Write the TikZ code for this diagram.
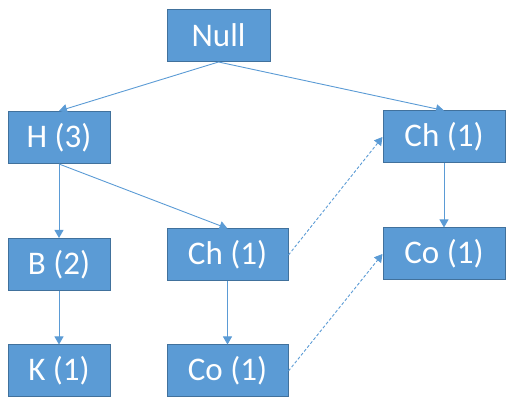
\documentclass[tikz,border=0pt]{standalone}
\usepackage{fontspec}
\setmainfont{Carlito}
\usetikzlibrary{arrows.meta}
\definecolor{boxfill}{HTML}{5B9BD5}
\definecolor{boxline}{HTML}{41719C}
\definecolor{linkcol}{HTML}{5B9BD5}
\tikzset{
  item/.style={draw=boxline, line width=1pt, fill=boxfill, text=white,
    minimum height=52pt, inner sep=0pt,
    font=\fontsize{33}{38}\selectfont},
  link/.style={draw=linkcol, line width=0.9pt,
    -{Triangle[length=8pt,width=9pt]}},
  crosslink/.style={link, dash pattern=on 3pt off 2pt}
}
\begin{document}
\begin{tikzpicture}[x=1pt,y=-1pt]
\useasboundingbox (0,0) rectangle (507,398);
% tree nodes
\node[item, minimum width=103pt] (null) at (218.5,35.5) {Null};
\node[item, minimum width=102pt] (h)    at (59,137.5)   {H (3)};
\node[item, minimum width=122pt] (chR)  at (444,137)    {Ch (1)};
\node[item, minimum width=122pt] (coR)  at (444,254)    {Co (1)};
\node[item, minimum width=121pt] (chM)  at (227.5,255)  {Ch (1)};
\node[item, minimum width=121pt] (coM)  at (227.5,371)  {Co (1)};
\node[item, minimum width=102pt] (b)    at (59,264.5)   {B (2)};
\node[item, minimum width=102pt] (k)    at (59,371)     {K (1)};
% parent-child links
\draw[link] (null.south) -- (h.north);
\draw[link] (null.south) -- (chR.north);
\draw[link] (h.south) -- (b.north);
\draw[link] (h.south) -- (chM.north);
\draw[link] (chR.south) -- (coR.north);
\draw[link] (b.south) -- (k.north);
\draw[link] (chM.south) -- (coM.north);
% links between equal items
\draw[crosslink] (chM.east) -- (chR.west);
\draw[crosslink] (coM.east) -- (coR.west);
\end{tikzpicture}
\end{document}
